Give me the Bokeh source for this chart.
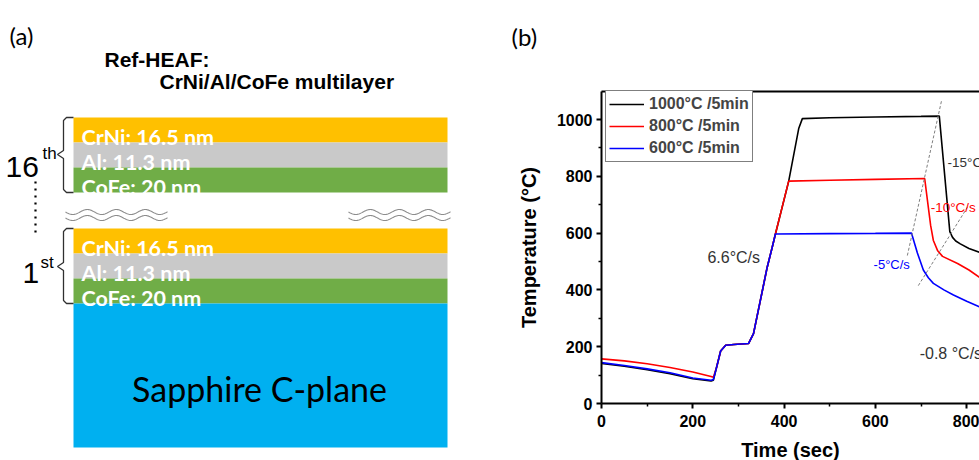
import numpy as np
from bokeh.plotting import figure
from bokeh.models import (Range1d, Legend, LegendItem, LinearAxis,
                          FixedTicker, ColumnDataSource)
from bokeh.embed import file_html
from bokeh.resources import INLINE
from bokeh.core.properties import value

# ---------------- panel (a): layer stack content ----------------
title_lines = ["Ref-HEAF:", "CrNi/Al/CoFe multilayer"]
layer_labels = ["CrNi: 16.5 nm", "Al: 11.3 nm", "CoFe: 20 nm"]
layer_colors = ["#FFC000", "#C9C9C9", "#70AD47"]
group_numbers = ["16", "1"]
group_suffixes = ["th", "st"]
substrate_label = "Sapphire C-plane"
substrate_color = "#00B0F0"

# ---------------- panel (b): annealing profiles ----------------
series_labels = ["1000\u00b0C /5min", "800\u00b0C /5min", "600\u00b0C /5min"]
series_colors = ["#000000", "#FF0000", "#0000FF"]

t_1000 = [0, 50, 100, 150, 200, 240, 245, 252, 261, 272, 290, 322, 333, 348, 363,
          374, 381, 410, 432, 440, 500, 600, 700, 740, 763, 769, 776, 786, 805, 828]
temp_1000 = [141, 131, 119, 105, 87, 79, 82, 127, 185, 205, 208, 211, 246, 363, 480,
             550, 597, 782, 968, 1003, 1006, 1009, 1011, 1012, 605, 585, 572, 562, 546, 532]

t_800 = [0, 50, 100, 150, 200, 240, 245, 252, 261, 272, 290, 322, 333, 348, 363,
         374, 381, 410, 500, 600, 708, 714, 721, 727, 736, 747, 780, 805, 828]
temp_800 = [157, 150, 140, 127, 111, 95, 92, 127, 185, 205, 208, 211, 246, 363, 480,
            550, 597, 783, 786, 789, 792, 715, 627, 574, 539, 518, 493, 470, 444]

t_600 = [0, 50, 100, 150, 200, 240, 245, 252, 261, 272, 290, 322, 333, 348, 363,
         374, 381, 500, 600, 679, 692, 705, 716, 727, 750, 771, 800, 828]
temp_600 = [144, 134, 122, 108, 90, 82, 84, 127, 185, 205, 208, 211, 246, 363, 480,
            550, 597, 598, 599, 600, 530, 470, 443, 423, 400, 382, 360, 340]

guide1_t = [670, 745]
guide1_temp = [521, 1067]
guide2_t = [694, 804]
guide2_temp = [415, 697]

rate_texts = ["6.6\u00b0C/s", "-5\u00b0C/s", "-10\u00b0C/s", "-15\u00b0C/s", "-0.8 \u00b0C/s"]
rate_t = [232, 596, 721, 758, 697]
rate_temp = [514, 489, 690, 849, 176]

x_ticks = [0, 200, 400, 600, 800]
x_minor = [100, 300, 500, 700]
y_ticks = [0, 200, 400, 600, 800, 1000]
y_minor = [100, 300, 500, 700, 900]
t_max = 828
temp_max = 1099

# ---------------- one canvas: panel (b) data ranges, panel (a) in pixel ranges -----
W, H = 979, 460
x0_px, y0_px = 601, 403          # where t=0 / T=0 sit on the canvas
sx, sy = 0.4565, 0.284           # px per second / px per degree
x_range = Range1d(-x0_px / sx, (W - x0_px) / sx)
y_range = Range1d(-(H - y0_px) / sy, y0_px / sy)

p = figure(width=W, height=H, x_range=x_range, y_range=y_range,
           output_backend="svg", toolbar_location=None, min_border=0,
           x_axis_location=None, y_axis_location=None, outline_line_color=None)
p.grid.visible = False
p.extra_x_ranges = {"px": Range1d(0, W)}
p.extra_y_ranges = {"py": Range1d(H, 0)}
A = dict(x_range_name="px", y_range_name="py")

# =============== panel (a) ===============
stack_left, stack_right = 73, 447
band_h = 25
group_tops = [117, 228]
sub_bottom = 447

q_l, q_r, q_t, q_b, q_c = [], [], [], [], []
txt_x, txt_y, txt_s = [], [], []
for g_top in group_tops:
    for i, (lab, col) in enumerate(zip(layer_labels, layer_colors)):
        top = g_top + i * band_h
        q_l.append(stack_left); q_r.append(stack_right)
        q_t.append(top); q_b.append(top + band_h); q_c.append(col)
        txt_x.append(stack_left + 8); txt_y.append(top + band_h / 2 + 7); txt_s.append(lab)
sub_top = group_tops[1] + 3 * band_h
q_l.append(stack_left); q_r.append(stack_right)
q_t.append(sub_top); q_b.append(sub_bottom); q_c.append(substrate_color)
p.quad(left=q_l, right=q_r, top=q_t, bottom=q_b, fill_color=q_c, line_color=None, **A)

p.text(x=txt_x, y=txt_y, text=txt_s, text_color="white",
       text_font=value("Lato"), text_font_style="bold", text_font_size="21.5px",
       text_baseline="alphabetic", text_align="left", **A)

p.text(x=[(stack_left + stack_right) / 2 - 1], y=[388], text=[substrate_label],
       text_color="black", text_font=value("Lato"), text_font_size="34px",
       text_baseline="alphabetic", text_align="center", **A)

p.text(x=[9, 511], y=[35, 36], text=["(a)", "(b)"], text_font=value("Lato"),
       text_font_size="24px", text_baseline="alphabetic", text_color="black", **A)
p.text(x=[104, 159], y=[59, 81], text=title_lines, text_font=value("Liberation Sans"),
       text_font_style="bold", text_font_size="21px", text_baseline="alphabetic",
       text_color="black", **A)

p.text(x=[5, 22], y=[166, 272], text=group_numbers, text_font=value("Liberation Sans"),
       text_font_size="30px", text_baseline="alphabetic", text_color="black", **A)
p.text(x=[42, 40], y=[153, 262], text=group_suffixes, text_font=value("Liberation Sans"),
       text_font_size="17px", text_baseline="alphabetic", text_color="black", **A)

for g_top, tip in zip(group_tops, [154, 266]):
    g_bot = g_top + 3 * band_h
    bx = [stack_left, 66, 63, 63, 57, 63, 63, 66, stack_left]
    by = [g_top, g_top, g_top + 3, tip - 4, tip, tip + 4, g_bot - 3, g_bot, g_bot]
    p.line(bx, by, line_color="#303030", line_width=1.3, **A)

p.line([35, 35], [181, 236], line_color="black", line_width=2.2, line_dash="2 5", **A)

for xa0, xa1 in [(65, 167), (348, 450)]:
    xs = np.linspace(xa0, xa1, 120)
    for yc in (211.5, 217.5):
        ys = yc + 2.5 * np.sin((xs - xa0) / 29.0 * 2 * np.pi)
        p.line(xs, ys, line_color="#8C8C8C", line_width=1.1, **A)

# =============== panel (b) ===============
r1 = p.line(t_1000, temp_1000, line_color=series_colors[0], line_width=1.6)
r2 = p.line(t_800, temp_800, line_color=series_colors[1], line_width=1.6)
r3 = p.line(t_600, temp_600, line_color=series_colors[2], line_width=1.6)

for gt, gT in [(guide1_t, guide1_temp), (guide2_t, guide2_temp)]:
    p.line(gt, gT, line_color="#7F7F7F", line_width=1, line_dash="3 2")

rate_src = ColumnDataSource(dict(
    x=rate_t, y=rate_temp, text=rate_texts,
    color=["#333333", "#0000FF", "#FF0000", "#333333", "#333333"],
    size=["16px", "13px", "13.5px", "13.5px", "16px"]))
p.text(x="x", y="y", text="text", text_color="color", text_font_size="size",
       text_font=value("Liberation Sans"), text_baseline="middle", text_align="left",
       source=rate_src)


def style_axis(ax):
    ax.axis_line_width = 2
    ax.axis_line_color = "black"
    ax.major_tick_line_width = 2
    ax.minor_tick_line_width = 1.5
    ax.major_tick_out = 5
    ax.major_tick_in = 0
    ax.minor_tick_out = 3
    ax.minor_tick_in = 0
    ax.major_label_text_font = "Liberation Sans"
    ax.major_label_text_font_style = "bold"
    ax.major_label_text_font_size = "16px"
    ax.major_label_text_color = "black"
    ax.axis_label_text_font = "Liberation Sans"
    ax.axis_label_text_font_style = "bold"
    ax.axis_label_text_font_size = "20px"
    ax.axis_label_text_color = "black"


xa = LinearAxis(fixed_location=0, bounds=(0, t_max),
                ticker=FixedTicker(ticks=x_ticks, minor_ticks=x_minor),
                axis_label="Time (sec)")
style_axis(xa)
xa.major_label_standoff = 6
xa.axis_label_standoff = 9
p.add_layout(xa, "below")

ya = LinearAxis(fixed_location=0, bounds=(0, temp_max),
                ticker=FixedTicker(ticks=y_ticks, minor_ticks=y_minor),
                axis_label="Temperature (\u00b0C)")
style_axis(ya)
ya.major_label_standoff = 4
ya.axis_label_standoff = 14
p.add_layout(ya, "left")

ta = LinearAxis(fixed_location=temp_max, bounds=(0, t_max), ticker=FixedTicker(ticks=[]),
                axis_line_width=2, axis_line_color="black",
                major_tick_line_color=None, minor_tick_line_color=None,
                major_label_text_font_size="0px")
p.add_layout(ta, "above")

legend = Legend(items=[LegendItem(label=series_labels[0], renderers=[r1]),
                       LegendItem(label=series_labels[1], renderers=[r2]),
                       LegendItem(label=series_labels[2], renderers=[r3])],
                location=(605, H - 162), margin=0, padding=3, spacing=2,
                glyph_width=35, glyph_height=20, label_height=20, label_standoff=5,
                border_line_color="black", border_line_width=1,
                label_text_font="Liberation Sans", label_text_font_style="bold",
                label_text_font_size="16px", background_fill_alpha=1)
p.add_layout(legend)

open("out.html", "w").write(file_html(p, INLINE))
